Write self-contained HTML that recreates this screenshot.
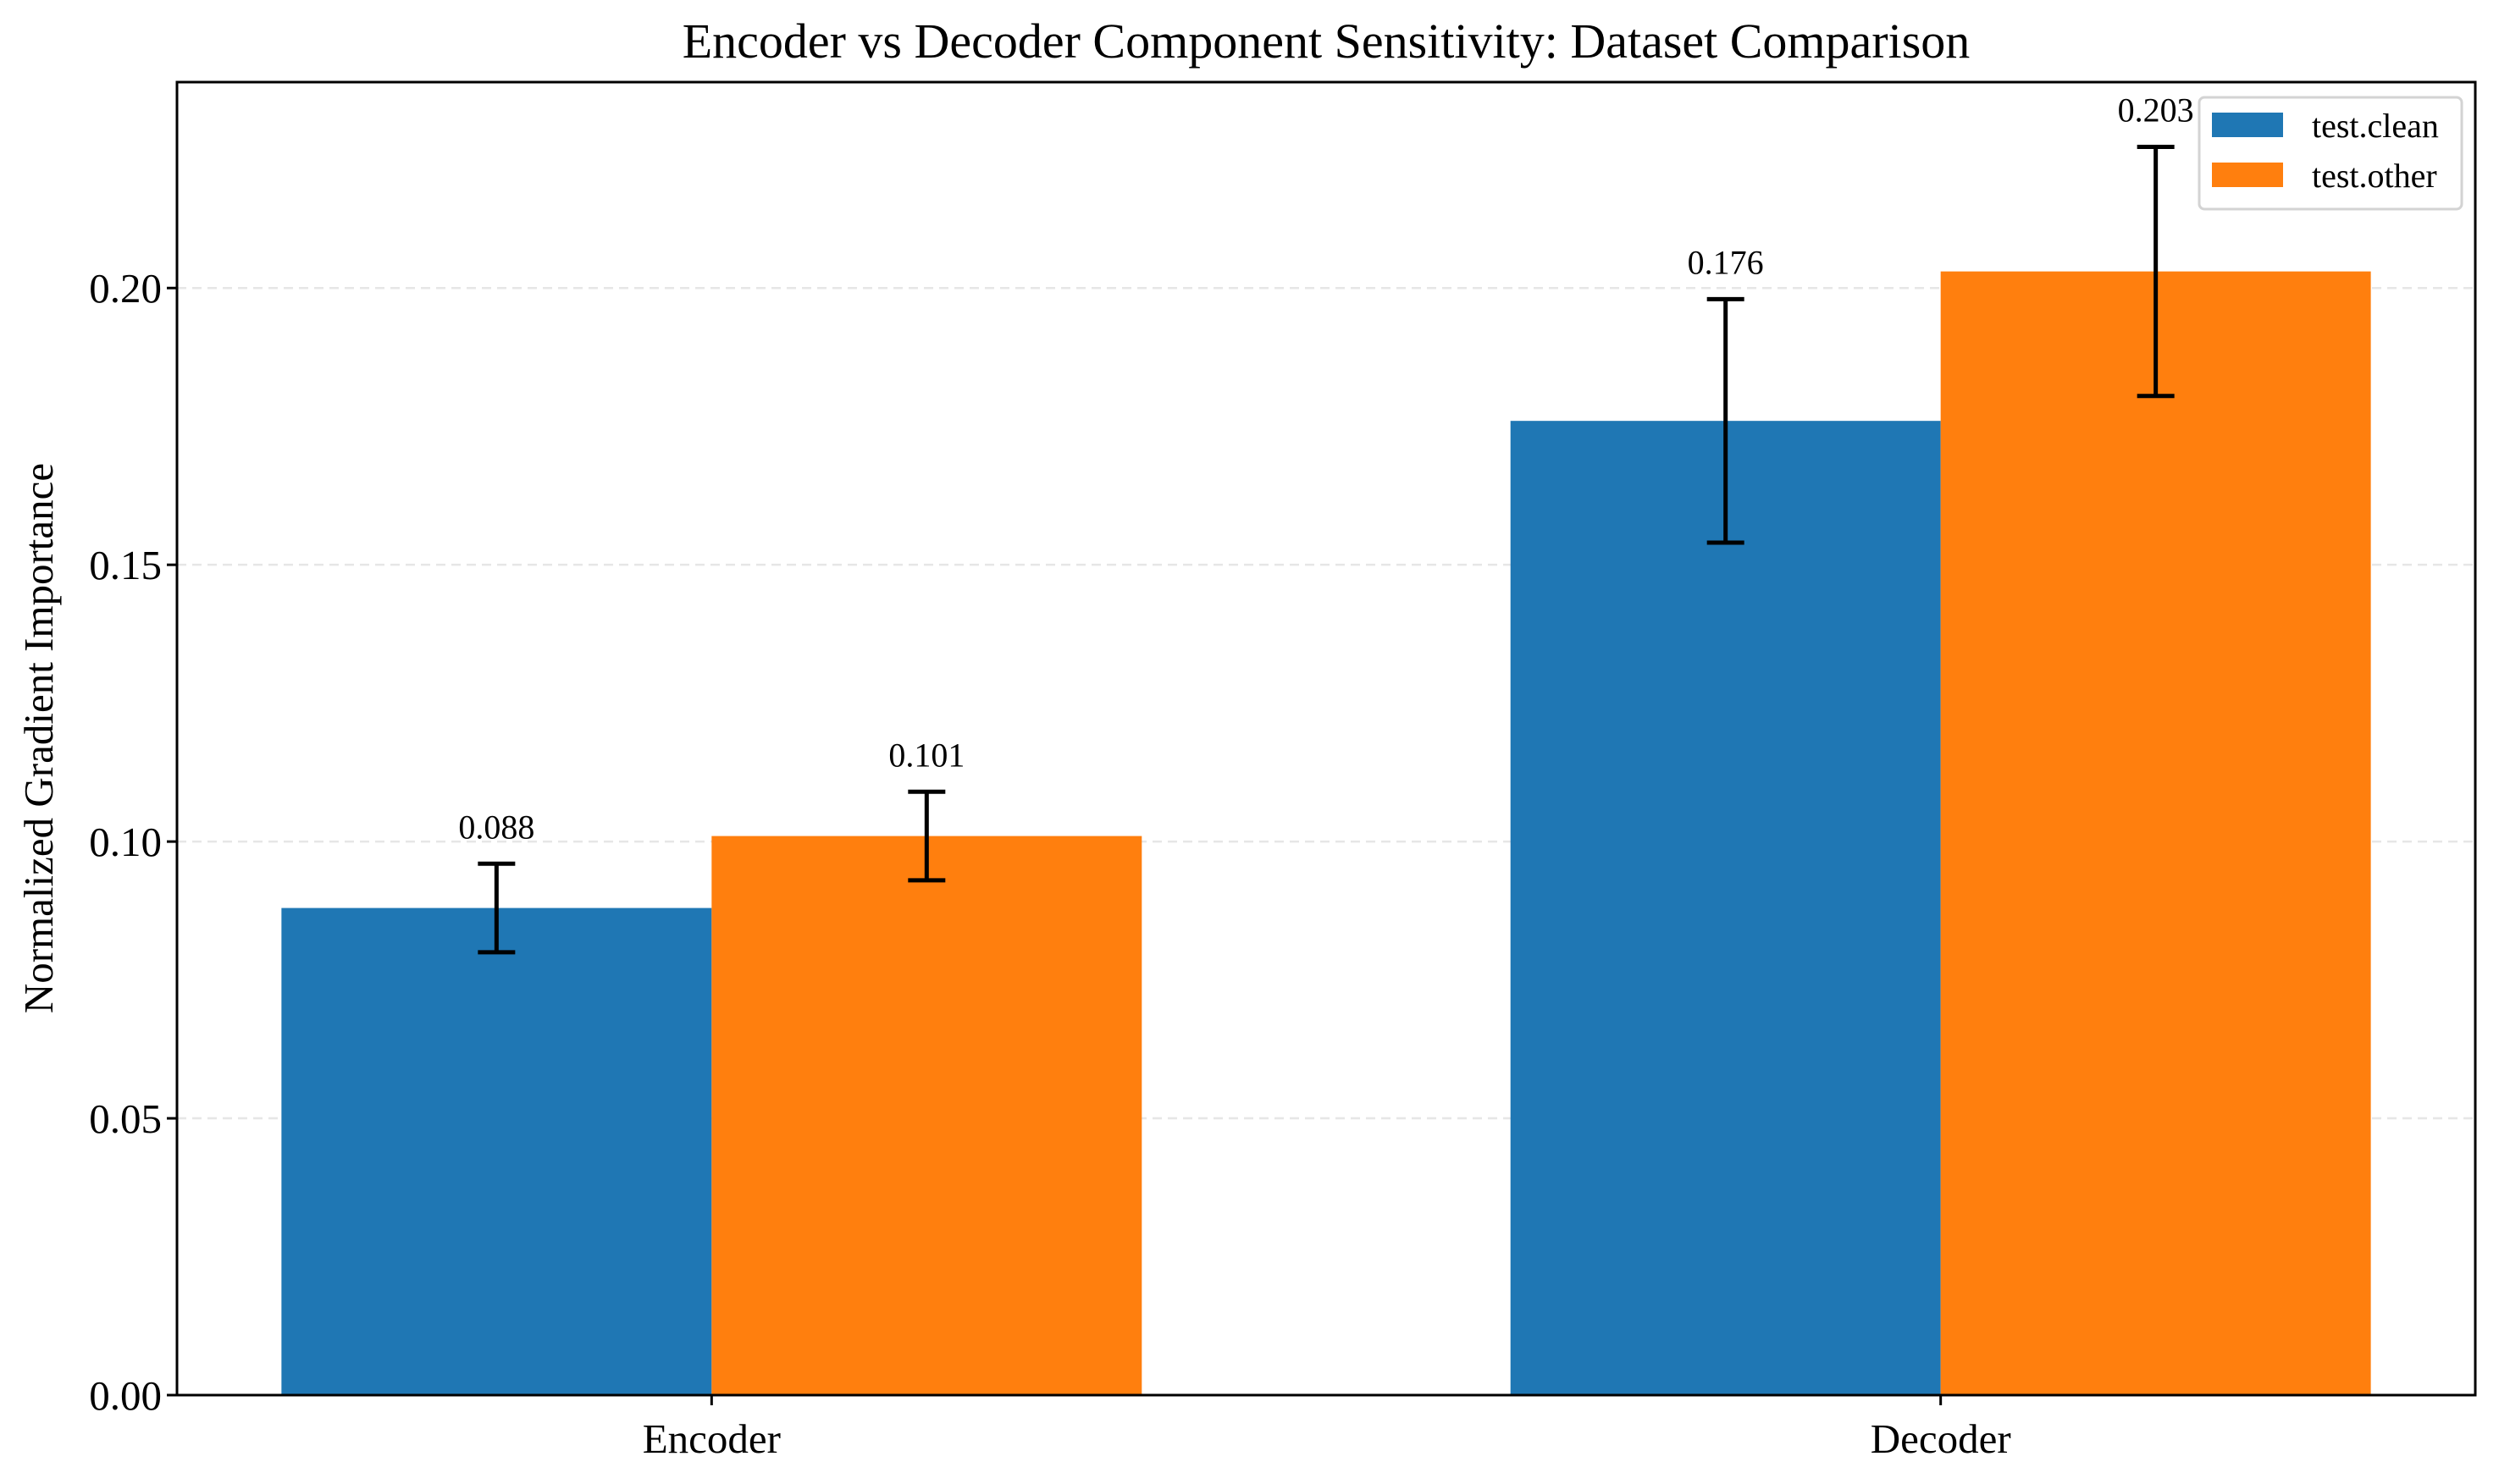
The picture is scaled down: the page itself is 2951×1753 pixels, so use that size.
<!DOCTYPE html>
<html><head><meta charset="utf-8"><style>
html,body{margin:0;padding:0;background:#fff;}
svg{display:block;font-family:"Liberation Serif","DejaVu Serif",serif;}
</style></head><body>
<svg id="chart" width="2951" height="1753" viewBox="0 0 2951 1753">
<text x="1566" y="68" font-size="58" text-anchor="middle">Encoder vs Decoder Component Sensitivity: Dataset Comparison</text>
<text transform="translate(62,872) rotate(-90)" font-size="49" text-anchor="middle">Normalized Gradient Importance</text>
<g id="grid"></g><g id="bars"></g><g id="errs"></g><g id="labels"></g><g id="ticks"></g>
<rect x="209" y="97" width="2714" height="1551" fill="none" stroke="#000" stroke-width="3"/>
<g>
<rect x="2597" y="115" width="310" height="132" rx="6" fill="#fff" fill-opacity="0.8" stroke="#d3d3d3" stroke-width="3"/>
<rect x="2612" y="133" width="84" height="29" fill="#1f77b4"/>
<text x="2730" y="162" font-size="40">test.clean</text>
<rect x="2612" y="192" width="84" height="29" fill="#ff7f0e"/>
<text x="2730" y="221" font-size="40">test.other</text>
</g>
</svg>
<script>
const categories = ["Encoder", "Decoder"];
const seriesNames = ["test.clean", "test.other"];
const cleanValues = [0.088, 0.176];
const otherValues = [0.101, 0.203];
const cleanErrors = [0.008, 0.022];
const otherErrors = [0.008, 0.0225];
const yTicks = [0.00, 0.05, 0.10, 0.15, 0.20];
const yTickLabels = ["0.00", "0.05", "0.10", "0.15", "0.20"];

const NS = "http://www.w3.org/2000/svg";
const L = 209, R = 2923, T = 97, B = 1648;
const xMin = -0.435, xMax = 1.435, yMin = 0, yMax = 0.2372;
const xs = v => L + (v - xMin) / (xMax - xMin) * (R - L);
const ys = v => B - (v - yMin) / (yMax - yMin) * (B - T);
const barW = 0.35;
const colors = ["#1f77b4", "#ff7f0e"];
function mk(tag, attrs, parent) {
  const e = document.createElementNS(NS, tag);
  for (const k in attrs) e.setAttribute(k, attrs[k]);
  document.getElementById(parent).appendChild(e);
  return e;
}
yTicks.forEach((t, i) => {
  if (t > 0) {
    const g = mk("line", {x1: L, x2: R, y1: ys(t), y2: ys(t), stroke: "#e6e6e6", "stroke-width": 2.5, "stroke-dasharray": "11 7"}, "grid");
    
    
  }
  const tk = mk("line", {x1: L - 12, x2: L, y1: ys(t), y2: ys(t), stroke: "#000", "stroke-width": 3}, "ticks");
  
  
  const tl = mk("text", {x: L - 18, y: ys(t) + 17, "font-size": 49, "text-anchor": "end"}, "ticks");
  tl.textContent = yTickLabels[i];
  
  
});
categories.forEach((c, i) => {
  const tk = mk("line", {x1: xs(i), x2: xs(i), y1: B, y2: B + 12, stroke: "#000", "stroke-width": 3}, "ticks");
  
  
  const tl = mk("text", {x: xs(i), y: B + 68, "font-size": 49, "text-anchor": "middle"}, "ticks");
  tl.textContent = c;
  
  
});
const series = [[cleanValues, cleanErrors], [otherValues, otherErrors]];
series.forEach((s, si) => {
  const [vals, errs] = s;
  vals.forEach((v, i) => {
    const x0 = si === 0 ? i - barW : i;
    const cx = x0 + barW / 2;
    const b = mk("rect", {x: xs(x0), y: ys(v), width: xs(x0 + barW) - xs(x0), height: ys(0) - ys(v), fill: colors[si]}, "bars");
    
    
    const hi = ys(v + errs[i]), lo = ys(v - errs[i]), px = xs(cx);
    const e1 = mk("line", {x1: px, x2: px, y1: hi, y2: lo, stroke: "#000", "stroke-width": 5}, "errs");
    
    
    [hi, lo].forEach(yy => {
      const cp = mk("line", {x1: px - 22, x2: px + 22, y1: yy, y2: yy, stroke: "#000", "stroke-width": 5}, "errs");
      
      
    });
    const lb = mk("text", {x: px, y: hi - 30, "font-size": 40, "text-anchor": "middle"}, "labels");
    lb.textContent = v.toFixed(3);
    
    
  });
});
</script>
</body></html>
